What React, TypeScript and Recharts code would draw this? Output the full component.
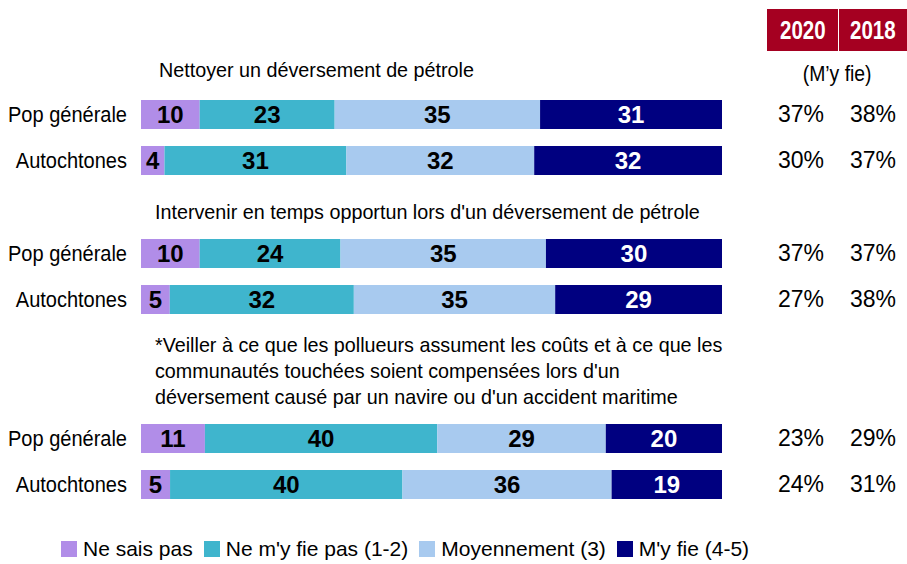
import { BarChart, Bar, XAxis, YAxis, LabelList } from "recharts";

const rowLabels = ["Pop générale", "Autochtones", "Pop générale", "Autochtones", "Pop générale", "Autochtones"];
const questions = [
  ["Nettoyer un déversement de pétrole"],
  ["Intervenir en temps opportun lors d'un déversement de pétrole"],
  [
    "*Veiller à ce que les pollueurs assument les coûts et à ce que les",
    "communautés touchées soient compensées lors d'un",
    "déversement causé par un navire ou d'un accident maritime",
  ],
];
const neSaisPas = [10, 4, 10, 5, 11, 5];
const neMyFiePas = [23, 31, 24, 32, 40, 40];
const moyennement = [35, 32, 35, 35, 29, 36];
const myFie = [31, 32, 30, 29, 20, 19];
const pct2020 = ["37%", "30%", "37%", "27%", "23%", "24%"];
const pct2018 = ["38%", "37%", "37%", "38%", "29%", "31%"];
const years = ["2020", "2018"];

const series = [
  { key: "nsp", name: "Ne sais pas", color: "#B18DE8", text: "#000" },
  { key: "nfp", name: "Ne m'y fie pas (1-2)", color: "#3FB5CD", text: "#000" },
  { key: "moy", name: "Moyennement (3)", color: "#A8CAEF", text: "#000" },
  { key: "fie", name: "M'y fie (4-5)", color: "#000080", text: "#fff" },
];

const rows = rowLabels.map((label, i) => ({
  label,
  nsp: neSaisPas[i],
  nfp: neMyFiePas[i],
  moy: moyennement[i],
  fie: myFie[i],
  p2020: pct2020[i],
  p2018: pct2018[i],
}));

const SANS = "'Liberation Sans', Arial, sans-serif";

// chart tops and title tops for the three groups
const chartTops = [91, 230, 415];
const titleBlocks = [
  { left: 159, top: 57 },
  { left: 155, top: 199 },
  { left: 155, top: 332 },
];

// reference text is a condensed Arial; squeeze Liberation Sans horizontally
const squeeze = (s: number) => ({
  display: "inline-block",
  transform: `scaleX(${s})`,
  transformOrigin: "left center",
});

function RowTick(props: any) {
  const { x, y, payload } = props;
  return (
    <text
      x={0}
      y={0}
      transform={`translate(${x},${y}) scale(0.91,1)`}
      textAnchor="end"
      dy="0.36em"
      fontSize={22}
      fontFamily={SANS}
      fill="#000"
    >
      {payload.value}
    </text>
  );
}

function PctTick(props: any) {
  const { x, y, index, data } = props;
  const row = data[index];
  return (
    <g fontFamily={SANS} fontSize={23} fill="#000">
      <text x={x + 79} y={y} textAnchor="middle" dy="0.36em">{row.p2020}</text>
      <text x={x + 151} y={y} textAnchor="middle" dy="0.36em">{row.p2018}</text>
    </g>
  );
}

function Group({ data, top }: { data: any[]; top: number }) {
  return (
    <div style={{ position: "absolute", left: 0, top }}>
      <BarChart
        width={907}
        height={92}
        data={data}
        layout="vertical"
        stackOffset="expand"
        margin={{ top: 0, right: 0, bottom: 0, left: 0 }}
      >
        <XAxis type="number" hide domain={[0, 1]} />
        <YAxis
          type="category"
          dataKey="label"
          width={141}
          axisLine={false}
          tickLine={false}
          tickSize={0}
          tickMargin={14}
          tick={<RowTick />}
        />
        <YAxis
          yAxisId="r"
          orientation="right"
          type="category"
          dataKey="label"
          width={185}
          axisLine={false}
          tickLine={false}
          tickSize={0}
          tickMargin={0}
          tick={<PctTick data={data} />}
        />
        {series.map((s) => (
          <Bar key={s.key} dataKey={s.key} stackId="a" fill={s.color} barSize={29} isAnimationActive={false}>
            <LabelList
              dataKey={s.key}
              position="center"
              fill={s.text}
              fontSize={24}
              fontWeight="bold"
              fontFamily={SANS}
            />
          </Bar>
        ))}
      </BarChart>
    </div>
  );
}

export default function App() {
  return (
    <div
      style={{
        position: "absolute",
        left: 0,
        top: 0,
        width: 907,
        height: 564,
        background: "#fff",
        overflow: "hidden",
        fontFamily: SANS,
        color: "#000",
      }}
    >
      {years.map((y, i) => (
        <div
          key={y}
          style={{
            position: "absolute",
            left: i === 0 ? 767 : 839,
            top: 9,
            width: i === 0 ? 71 : 68,
            height: 42,
            background: "#A50021",
            color: "#fff",
            fontWeight: "bold",
            fontSize: 25,
            lineHeight: "42px",
            textAlign: "center",
          }}
        >
          <span style={{ display: "inline-block", transform: "scaleX(0.82)" }}>{y}</span>
        </div>
      ))}
      <div
        style={{
          position: "absolute",
          left: 767,
          top: 61,
          width: 140,
          textAlign: "center",
          fontSize: 22,
          lineHeight: "26px",
        }}
      >
        <span style={{ display: "inline-block", transform: "scaleX(0.88)" }}>(M’y fie)</span>
      </div>
      {questions.map((lines, g) => (
        <div
          key={g}
          style={{
            position: "absolute",
            left: titleBlocks[g].left,
            top: titleBlocks[g].top,
            fontSize: 21,
            lineHeight: "26px",
            whiteSpace: "nowrap",
          }}
        >
          {lines.map((l) => (
            <div key={l}>
              <span style={squeeze(0.94)}>{l}</span>
            </div>
          ))}
        </div>
      ))}
      {chartTops.map((top, g) => (
        <Group key={g} data={rows.slice(g * 2, g * 2 + 2)} top={top} />
      ))}
      <div
        style={{
          position: "absolute",
          left: 61,
          top: 537,
          display: "flex",
          alignItems: "center",
          fontSize: 21,
          lineHeight: "24px",
        }}
      >
        {series.map((s) => (
          <div key={s.key} style={{ display: "flex", alignItems: "center", marginRight: 11 }}>
            <div style={{ width: 16, height: 16, background: s.color, marginRight: 6 }} />
            <span>{s.name}</span>
          </div>
        ))}
      </div>
    </div>
  );
}
